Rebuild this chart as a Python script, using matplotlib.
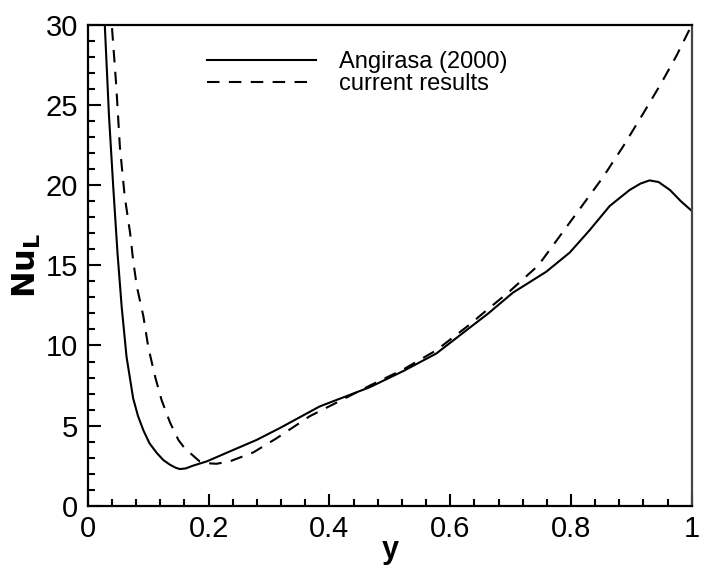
import matplotlib.pyplot as plt
from matplotlib.ticker import MultipleLocator

plt.rcParams['font.family'] = ['Liberation Sans', 'DejaVu Sans']

# Angirasa (2000) reference curve
y_ref = [0.028, 0.035, 0.042, 0.049, 0.056, 0.064, 0.075, 0.083, 0.092, 0.102,
         0.114, 0.125, 0.136, 0.145, 0.152, 0.162, 0.174, 0.197, 0.235, 0.279,
         0.318, 0.384, 0.467, 0.522, 0.577, 0.632, 0.663, 0.704, 0.759, 0.798,
         0.831, 0.864, 0.897, 0.915, 0.930, 0.945, 0.964, 0.982, 1.0]
nu_ref = [30.0, 24.3, 19.9, 15.8, 12.4, 9.3, 6.7, 5.6, 4.7, 3.9,
          3.3, 2.85, 2.56, 2.38, 2.29, 2.33, 2.5, 2.77, 3.39, 4.1,
          4.85, 6.2, 7.4, 8.4, 9.5, 11.1, 12.0, 13.3, 14.6, 15.8,
          17.2, 18.7, 19.7, 20.1, 20.3, 20.2, 19.7, 19.0, 18.4]

# current results
y_cur = [0.040, 0.047, 0.053, 0.061, 0.070, 0.075, 0.081, 0.092, 0.100, 0.111,
         0.122, 0.136, 0.150, 0.160, 0.169, 0.185, 0.200, 0.213, 0.235, 0.274,
         0.312, 0.368, 0.41, 0.467, 0.522, 0.577, 0.632, 0.654, 0.699, 0.746,
         0.781, 0.820, 0.853, 0.886, 0.92, 0.95, 0.975, 1.0]
nu_cur = [29.8, 26.2, 22.4, 19.3, 17.0, 15.3, 13.7, 11.8, 9.9, 8.1,
          6.6, 5.2, 4.1, 3.6, 3.3, 2.77, 2.65, 2.62, 2.77, 3.33,
          4.2, 5.6, 6.4, 7.5, 8.5, 9.7, 11.3, 12.0, 13.4, 15.0,
          16.8, 18.8, 20.5, 22.4, 24.5, 26.4, 28.1, 30.0]

fig = plt.figure(figsize=(7.03, 5.67), dpi=100)
ax = fig.add_axes([0.125, 0.108, 0.859, 0.848])

ax.plot(y_ref, nu_ref, color='black', lw=1.5, label='Angirasa (2000)')
ax.plot(y_cur, nu_cur, color='black', lw=1.5, dashes=(6, 4.5), label='current results')

ax.set_xlim(0, 1)
ax.set_ylim(0, 30)
ax.xaxis.set_major_locator(MultipleLocator(0.2))
ax.xaxis.set_minor_locator(MultipleLocator(0.04))
ax.yaxis.set_major_locator(MultipleLocator(5))
ax.yaxis.set_minor_locator(MultipleLocator(1))
ax.set_xticks([0, 0.2, 0.4, 0.6, 0.8, 1.0], ['0', '0.2', '0.4', '0.6', '0.8', '1'])

ax.tick_params(which='both', direction='in', top=False, right=False,
               labelsize=21, width=1.5, pad=7)
ax.tick_params(which='major', length=9)
ax.tick_params(which='minor', length=5)
for s in ax.spines.values():
    s.set_linewidth(1.6)
ax.spines['right'].set_color('#444444')

ax.set_xlabel('y', fontsize=22, fontweight='bold', labelpad=-6)
ax.set_ylabel(r'$\mathbf{Nu_L}$', fontsize=23, labelpad=2)

ax.legend(loc='upper left', bbox_to_anchor=(0.182, 0.965), frameon=False,
          fontsize=17, handlelength=4.6, handletextpad=1.0, labelspacing=0.0,
          borderaxespad=0)

fig.savefig('out.png', dpi=100)
